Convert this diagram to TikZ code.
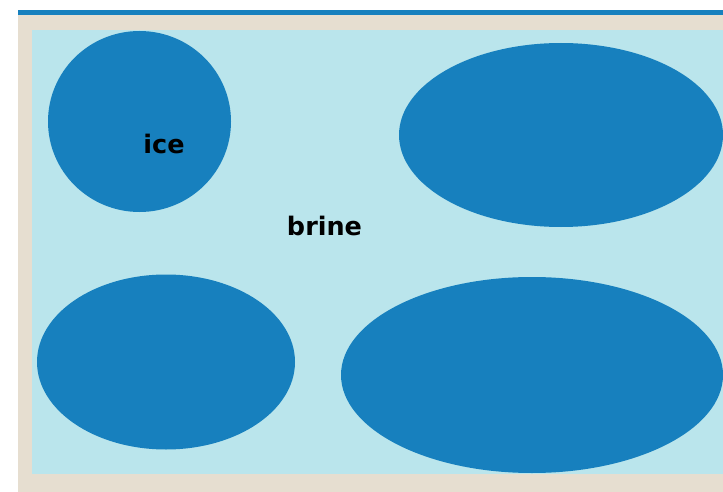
\documentclass[tikz,border=0pt]{standalone}
\usepackage{fontspec}
\setsansfont{DejaVu Sans}

\definecolor{iceblue}{RGB}{23,128,190}
\definecolor{sand}{RGB}{230,222,208}
\definecolor{brinecyan}{RGB}{186,229,236}

\begin{document}
\begin{tikzpicture}[x=1pt, y=-1pt,
    floe/.style={fill=iceblue},
    lbl/.style={font=\sffamily\bfseries\fontsize{25.5}{30}\selectfont, text=black}]
    \useasboundingbox (0,0) rectangle (723,492);
    \clip (0,0) rectangle (723,492);

    % frame and water
    \fill[white] (0,0) rectangle (723,492);
    \fill[sand] (18,15) rectangle (723,492);
    \fill[iceblue] (18,10) rectangle (723,15);
    \fill[brinecyan] (32,30) rectangle (723,474);

    % ice floes
    \fill[floe] (139.5,121.5) ellipse (91.5pt and 90.5pt);
    \fill[floe] (561,135) ellipse (162pt and 92pt);
    \fill[floe] (166,362) ellipse (129pt and 87.5pt);
    \fill[floe] (532,375) ellipse (191pt and 98pt);

    \node[lbl] (ice) at (164,144) {ice};
    \node[lbl] (brine) at (324.5,226) {brine};
\end{tikzpicture}
\end{document}
